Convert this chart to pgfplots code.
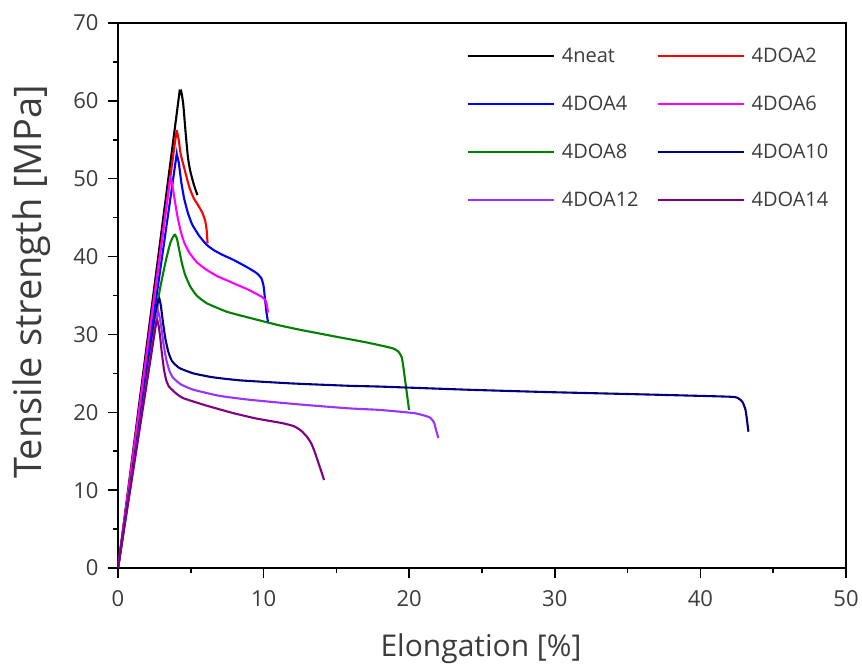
\documentclass[border=0pt]{standalone}
\usepackage{fontspec}
\setmainfont{Open Sans}
\usepackage{pgfplots}
\pgfplotsset{compat=1.18}
\definecolor{colneat}{RGB}{0,0,0}
\definecolor{coltwo}{RGB}{255,0,0}
\definecolor{colfour}{RGB}{0,0,255}
\definecolor{colsix}{RGB}{255,0,255}
\definecolor{coleight}{RGB}{0,128,0}
\definecolor{colten}{RGB}{0,0,128}
\definecolor{coltwelve}{RGB}{153,51,255}
\definecolor{colfourteen}{RGB}{128,0,128}
\definecolor{txt}{RGB}{60,60,60}
\begin{document}
\begin{tikzpicture}
\begin{axis}[
  scale only axis,
  width=728pt, height=545pt,
  xmin=0, xmax=50, ymin=0, ymax=70,
  xtick={0,10,...,50}, ytick={0,10,...,70},
  minor tick num=1,
  tick align=outside,
  xtick pos=bottom, ytick pos=left,
  major tick length=10pt, minor tick length=5pt,
  every tick/.style={black, line width=1.5pt},
  axis line style={line width=1.6pt},
  /pgf/number format/assume math mode=true,
  ticklabel style={font=\fontsize{22}{25}\selectfont, text=txt},
  xticklabel style={yshift=-9pt},
  yticklabel style={xshift=-6pt},
  xlabel={Elongation [\%]},
  ylabel={Tensile strength [MPa]},
  every axis x label/.style={at={(axis description cs:0.4986,-0.1633)}, anchor=base,
    font=\fontsize{30}{34}\selectfont, text=txt},
  every axis y label/.style={at={(axis description cs:-0.1180,0.525)}, anchor=center, rotate=90,
    font=\fontsize{38}{42}\selectfont, text=txt},
  legend columns=2,
  legend cell align=left,
  legend style={draw=none, fill=none, at={(0.479,0.958)}, anchor=north west,
    inner sep=0pt,
    font=\fontsize{20}{23}\selectfont, text=txt,
    row sep=28pt,
    /tikz/every odd column/.append style={column sep=5pt},
    /tikz/every even column/.append style={column sep=16pt}},
  legend image code/.code={\draw[#1, line width=2pt] (0pt,0pt) -- (86pt,0pt);},
  every axis plot/.append style={line width=2.1pt, smooth, tension=0.3},
]
% 4neat
\addplot[colneat] coordinates {(0,0) (4.05,58.6) (4.2,60.7) (4.33,61.3) (4.48,59.6) (4.65,55.8) (4.8,52.8) (4.95,51.1) (5.2,49.3) (5.45,47.9)};
\addlegendentry{4neat}
% 4DOA2
\addplot[coltwo] coordinates {(0,0) (3.85,53.8) (3.98,55.3) (4.07,55.9) (4.17,55.0) (4.3,53.2) (4.6,51.0) (4.9,48.9) (5.2,47.5) (5.5,46.6) (5.8,45.6) (6.0,44.5) (6.1,43.2) (6.15,41.7)};
\addlegendentry{4DOA2}
% 4DOA4
\addplot[colfour] coordinates {(0,0) (3.85,50.8) (3.98,52.4) (4.07,52.9) (4.18,52.0) (4.35,49.5) (4.55,47.4) (4.8,45.6) (5.1,44.1) (5.6,42.6) (6.1,41.5) (6.6,40.8) (7.2,40.2) (7.9,39.6) (8.8,38.7) (9.5,37.9) (9.85,37.2) (10.0,36.2) (10.1,34.5) (10.2,32.8) (10.3,31.6)};
\addlegendentry{4DOA4}
% 4DOA6
\addplot[colsix] coordinates {(0,0) (3.45,48.2) (3.55,49.5) (3.62,50.0) (3.72,49.3) (3.85,47.8) (4.05,45.5) (4.3,43.3) (4.55,41.8) (4.9,40.5) (5.4,39.3) (6.0,38.4) (6.8,37.5) (7.9,36.6) (9.0,35.7) (9.9,34.8) (10.15,34.3) (10.25,33.5) (10.3,32.8)};
\addlegendentry{4DOA6}
% 4DOA8
\addplot[coleight] coordinates {(0,0) (2.5,31.5) (2.9,36.0) (3.3,39.6) (3.6,41.8) (3.8,42.6) (3.91,42.8) (4.05,42.3) (4.2,40.9) (4.37,39.3) (4.6,37.7) (4.95,36.2) (5.4,35.0) (6.1,34.0) (7.5,32.9) (9.1,32.1) (11.0,31.2) (12.5,30.6) (15.0,29.7) (17.0,29.0) (18.0,28.6) (18.9,28.2) (19.25,27.8) (19.48,27.1) (19.6,25.8) (19.7,24.4) (19.85,22.3) (19.99,20.3)};
\addlegendentry{4DOA8}
% 4DOA10
\addplot[colten] coordinates {(0,0) (2.6,32.5) (2.75,34.2) (2.84,34.6) (2.95,33.6) (3.1,31.4) (3.25,29.5) (3.45,27.8) (3.7,26.6) (4.2,25.7) (5.17,25.0) (6.5,24.5) (8.4,24.1) (12.0,23.7) (15.9,23.4) (18.0,23.3) (24.0,22.9) (29.4,22.6) (36.0,22.3) (42.0,22.0) (42.6,21.8) (42.9,21.3) (43.1,20.3) (43.2,19.0) (43.3,17.5)};
\addlegendentry{4DOA10}
% 4DOA12
\addplot[coltwelve] coordinates {(0,0) (2.55,31.0) (2.7,32.5) (2.77,32.9) (2.88,32.0) (3.0,30.6) (3.11,29.0) (3.3,26.9) (3.5,25.5) (3.75,24.5) (4.3,23.6) (5.17,22.9) (7.0,22.1) (9.07,21.6) (12.5,21.0) (15.9,20.5) (18.0,20.3) (20.3,19.9) (21.0,19.6) (21.45,19.3) (21.7,18.7) (21.85,17.7) (22.0,16.7)};
\addlegendentry{4DOA12}
% 4DOA14
\addplot[colfourteen] coordinates {(0,0) (2.5,30.0) (2.63,31.4) (2.7,31.8) (2.8,31.0) (2.9,29.6) (3.0,27.8) (3.15,25.6) (3.3,24.2) (3.5,23.3) (4.0,22.4) (4.5,21.8) (6.0,20.9) (7.9,19.9) (9.5,19.2) (11.3,18.6) (12.1,18.2) (12.6,17.6) (13.0,16.8) (13.3,15.9) (13.55,14.7) (13.8,13.3) (14.0,12.2) (14.15,11.3)};
\addlegendentry{4DOA14}
\end{axis}
\path (current axis.south west) ++(-118pt,-95pt) rectangle ([shift={(16pt,23pt)}]current axis.north east);
\end{tikzpicture}
\end{document}
